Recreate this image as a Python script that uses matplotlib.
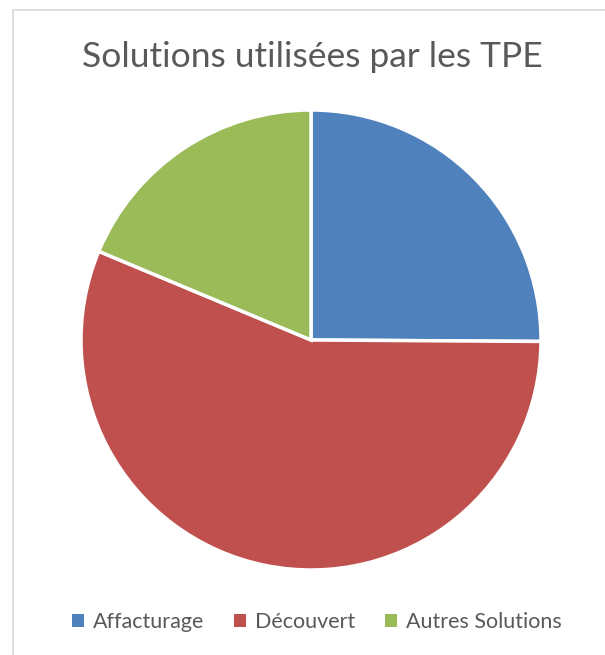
import matplotlib
matplotlib.use("Agg")
import matplotlib.pyplot as plt
from matplotlib.patches import Rectangle, Patch

labels = ["Affacturage", "Découvert", "Autres Solutions"]
shares = [25.1, 56.2, 18.7]
colors = ["#4F81BD", "#C0504D", "#9BBB59"]

W, H = 605, 655
fig = plt.figure(figsize=(W / 100, H / 100), dpi=100)
plt.rcParams["font.family"] = ["Lato", "DejaVu Sans"]

# chart border (only left and top visible)
fig.patches.append(Rectangle((13 / W, -0.1), 1.2, (H - 10) / H + 0.1,
                             transform=fig.transFigure, fill=False,
                             edgecolor="#D9D9D9", linewidth=1.2))

# pie
cx, cy, r = 311, 340, 230
ax = fig.add_axes([(cx - r) / W, (H - cy - r) / H, 2 * r / W, 2 * r / H])
wedges, _ = ax.pie(shares, colors=colors, startangle=90, counterclock=False,
                   radius=1, wedgeprops=dict(edgecolor="white", linewidth=2.5))
ax.set_xlim(-1.0, 1.0)
ax.set_ylim(-1.0, 1.0)
ax.set_aspect("equal")
ax.axis("off")

fig.text(312 / W, 1 - 57 / H, "Solutions utilisées par les TPE",
         ha="center", va="center", fontsize=25.5, color="#595959")

handles = [Patch(facecolor=c, edgecolor="none") for c in colors]
fig.legend(handles, labels, loc="center", bbox_to_anchor=(317 / W, 1 - 622 / H),
           ncol=3, frameon=False, fontsize=15.5, labelcolor="#595959",
           handlelength=0.55, handleheight=0.55, handletextpad=0.4,
           columnspacing=1.4)

fig.savefig("out.png", dpi=100)
